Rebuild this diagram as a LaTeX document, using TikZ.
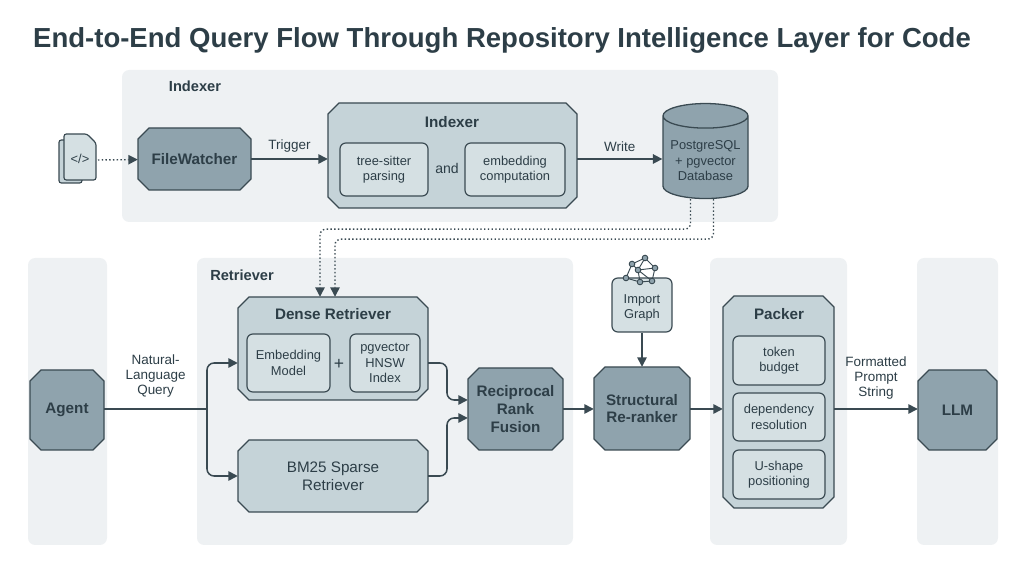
\documentclass[tikz,border=0pt]{standalone}
\usepackage{fontspec}
\setmainfont{Liberation Sans}
\usetikzlibrary{shapes.geometric,arrows.meta,calc}
\definecolor{txt}{HTML}{2D3E47}
\definecolor{dark}{HTML}{8FA3AD}
\definecolor{mid}{HTML}{C5D3D8}
\definecolor{lite}{HTML}{D5E0E3}
\definecolor{lane}{HTML}{EEF1F3}
\definecolor{edge}{HTML}{3A4A52}
\tikzset{
 oct/.style={rectangle,draw=none,text=txt,align=center,font=\bfseries\fontsize{13}{15}\selectfont,inner sep=0pt},
 inner/.style={draw=edge,line width=1pt,rounded corners=5pt,fill=lite,align=center,text=txt,font=\fontsize{11}{13}\selectfont,inner sep=0pt},
 lbl/.style={text=txt,font=\fontsize{11.5}{13}\selectfont,align=center},
 ttl/.style={text=txt,font=\bfseries\fontsize{12.5}{15}\selectfont},
 arr/.style={draw=edge,line width=1.3pt,-{Triangle[length=8pt,width=8pt]}},
 dot/.style={draw=edge,line width=1.2pt,dotted},
}
% octagon background: \octbg{x1}{y1}{x2}{y2}{color}
\newcommand\octbg[5]{%
 \filldraw[fill=#5,draw=edge,line width=1.1pt] (#1+11,#2) -- (#3-11,#2) -- (#3,#2+11) -- (#3,#4-11) -- (#3-11,#4) -- (#1+11,#4) -- (#1,#4-11) -- (#1,#2+11) -- cycle;}
\begin{document}
\begin{tikzpicture}[x=0.03cm,y=-0.03cm]
\useasboundingbox (0,0) rectangle (1024,571);
\node[text=txt,font=\bfseries\fontsize{23.5}{26}\selectfont] (title) at (502,40) {End-to-End Query Flow Through Repository Intelligence Layer for Code};
% lanes
\fill[lane,rounded corners=6pt] (122,70) rectangle (778,222);
\fill[lane,rounded corners=6pt] (28,258) rectangle (107,545);
\fill[lane,rounded corners=6pt] (197,258) rectangle (573,545);
\fill[lane,rounded corners=6pt] (710,258) rectangle (847,545);
\fill[lane,rounded corners=6pt] (917,258) rectangle (998,545);
\node[ttl] (lidx) at (195,86) {Indexer};
\node[ttl] (lret) at (242,275) {Retriever};
% file icon
\node (file) at (80,160) {};
\draw[edge,fill=mid,line width=1pt,rounded corners=2pt] (59,140) -- (82,140) -- (82,183) -- (59,183) -- cycle;
\draw[edge,fill=lite,line width=1pt,rounded corners=2pt] (64,134) -- (87,134) -- (96,143) -- (96,180) -- (64,180) -- cycle;
\node[text=txt,font=\fontsize{11}{12}\selectfont] at (80,159) {</>};
\coordinate (fileR) at (98,160);
% octagon backgrounds
\octbg{138}{128}{251}{190}{dark}
\octbg{328}{103}{577}{208}{mid}
\octbg{30}{370}{104}{450}{dark}
\octbg{238}{297}{428}{400}{mid}
\octbg{238}{440}{428}{512}{mid}
\octbg{468}{368}{563}{450}{dark}
\octbg{594}{367}{690}{450}{dark}
\octbg{723}{296}{834}{508}{mid}
\octbg{918}{370}{997}{450}{dark}
% indexer row
\node[oct,minimum width=3.39cm,minimum height=1.86cm] (fw) at (194.5,159) {FileWatcher};
\node[oct,minimum width=7.47cm,minimum height=3.15cm] (idx) at (452.5,155.5) {};
\node[ttl,font=\bfseries\fontsize{13}{15}\selectfont] (idxt) at (452,122) {Indexer};
\node[inner,minimum width=2.64cm,minimum height=1.59cm] (ts) at (384,169.5) {tree-sitter\\parsing};
\node[lbl,font=\fontsize{12}{14}\selectfont] (and) at (447,168) {and};
\node[inner,minimum width=3cm,minimum height=1.59cm] (emb) at (515,169.5) {embedding\\computation};
\node[cylinder,shape border rotate=90,aspect=0.35,draw=edge,line width=1.1pt,fill=dark,minimum width=2.55cm,minimum height=2.85cm,align=center,text=txt,font=\fontsize{11}{13}\selectfont,inner sep=0pt] (db) at (705.5,157.5) {\\PostgreSQL\\+ pgvector\\Database};
\draw[dot,-{Triangle[length=8pt,width=8pt]}] (fileR) -- (fw);
\draw[arr] (fw) -- node[lbl,above=2pt]{Trigger} (idx.west |- fw);
\draw[arr] (idx.east |- fw) -- node[lbl,above=2pt]{Write} (db.west |- fw);
% agent
\node[oct,minimum width=2.22cm,minimum height=2.4cm] (agent) at (67,410) {Agent};
% retriever
\node[oct,minimum width=5.7cm,minimum height=3.09cm] (dense) at (333,348.5) {};
\node[ttl,font=\bfseries\fontsize{13}{15}\selectfont] (denset) at (333,314) {Dense Retriever};
\node[inner,minimum width=2.49cm,minimum height=1.74cm] (em) at (288.5,363) {Embedding\\Model};
\node[lbl,font=\fontsize{15}{16}\selectfont] (plus) at (339,364) {+};
\node[inner,minimum width=2.1cm,minimum height=1.74cm] (hnsw) at (385,363) {pgvector\\HNSW\\Index};
\node[oct,minimum width=5.7cm,minimum height=2.16cm,font=\fontsize{13}{15}\selectfont] (bm) at (333,476) {BM25 Sparse\\Retriever};
\node[oct,minimum width=2.85cm,minimum height=2.46cm] (rrf) at (515.5,409) {Reciprocal\\Rank\\Fusion};
\node[oct,minimum width=2.88cm,minimum height=2.49cm] (sr) at (642,408.5) {Structural\\Re-ranker};
\node[inner,minimum width=1.8cm,minimum height=1.62cm,font=\fontsize{11}{13}\selectfont] (ig) at (642,305) {\\Import\\Graph};
% graph icon
\begin{scope}[edge,line width=0.8pt]
\coordinate (g1) at (632,264); \coordinate (g2) at (645,258); \coordinate (g3) at (655,268);
\coordinate (g4) at (626,278); \coordinate (g5) at (640,282); \coordinate (g6) at (652,281); \coordinate (g7) at (638,270);
\draw (g1)--(g2)--(g3)--(g6)--(g5)--(g4)--(g1)--(g7)--(g5) (g2)--(g7)--(g6) (g3)--(g7);
\foreach \p in {g1,g2,g3,g4,g5,g6,g7} \fill[fill=dark,draw=edge] (\p) circle (2.8);
\end{scope}
% packer
\node[oct,minimum width=3.33cm,minimum height=6.36cm] (pk) at (778.5,402) {};
\node[ttl,font=\bfseries\fontsize{13}{15}\selectfont] (pkt) at (779,314) {Packer};
\node[inner,minimum width=2.76cm,minimum height=1.47cm] (tok) at (779,360.5) {token\\budget};
\node[inner,minimum width=2.76cm,minimum height=1.44cm] (dep) at (779,417) {dependency\\resolution};
\node[inner,minimum width=2.76cm,minimum height=1.47cm] (ush) at (779,474.5) {U-shape\\positioning};
\node[oct,minimum width=2.37cm,minimum height=2.4cm] (llm) at (957.5,410) {LLM};
% connectors
\coordinate (fork) at (207,409);
\draw[edge,line width=1.3pt] (agent.east |- fork) -- node[lbl,above=6pt]{Natural-\\Language\\Query} (fork);
\draw[arr,rounded corners=6pt] (fork) |- (dense.west |- em);
\draw[arr,rounded corners=6pt] (fork) |- (bm);
\coordinate (m1) at (447,400); \coordinate (m2) at (447,418);
\draw[arr,rounded corners=6pt] (dense.east |- em) -| (m1) -- (rrf.west |- m1);
\draw[arr,rounded corners=6pt] (bm) -| (m2) -- (rrf.west |- m2);
\draw[arr] (rrf) -- (sr.west |- rrf);
\draw[arr] (ig) -- (sr);
\draw[arr] (sr.east |- rrf) -- (pk.west |- rrf);
\draw[arr] (pk.east |- rrf) -- node[lbl,above=4pt]{Formatted\\Prompt\\String} (llm.west |- rrf);
\draw[dot,rounded corners=5pt,-{Triangle[length=8pt,width=8pt]}] ($(db.south)+(-15,0)$) -- ++(0,30) -| ($(dense.north)+(-13,0)$);
\draw[dot,rounded corners=5pt,-{Triangle[length=8pt,width=8pt]}] ($(db.south)+(8,0)$) -- ++(0,40) -| ($(dense.north)+(2,0)$);
\end{tikzpicture}
\end{document}
